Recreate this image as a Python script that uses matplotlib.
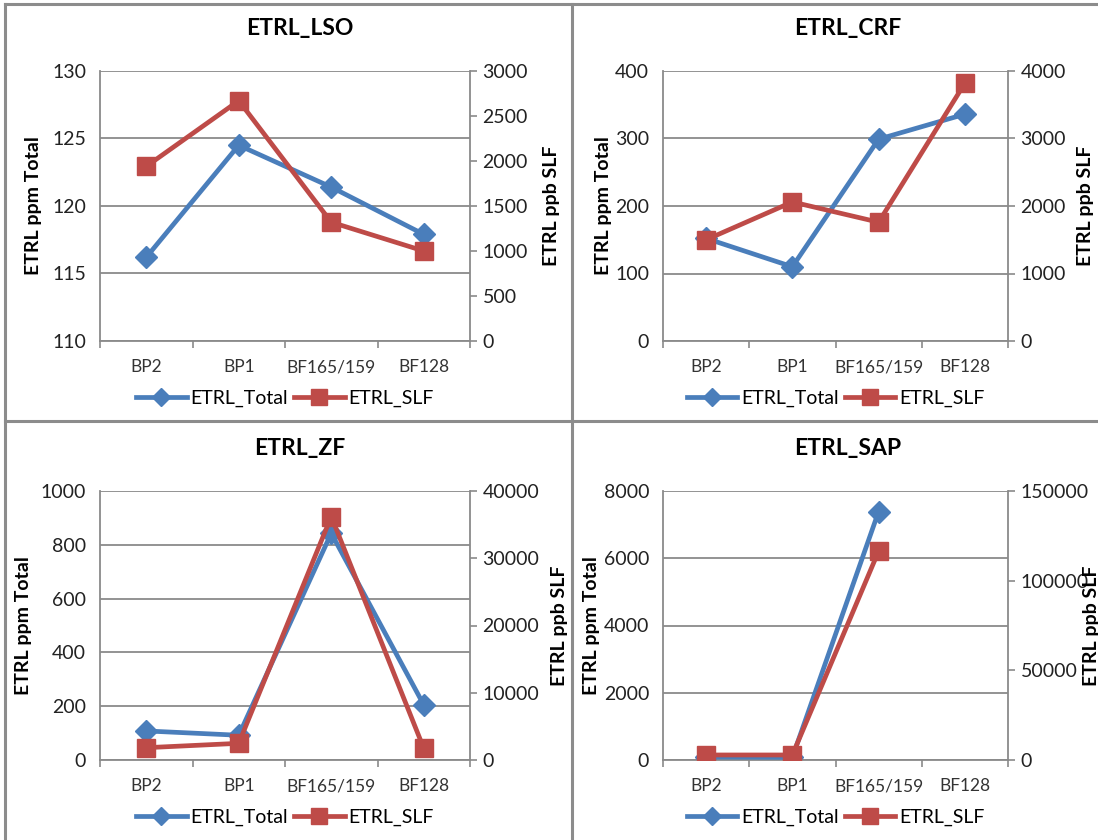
import numpy as np
import matplotlib
matplotlib.use("Agg")
import matplotlib.pyplot as plt
from matplotlib.lines import Line2D
from matplotlib.ticker import FixedLocator

plt.rcParams["font.family"] = ["Lato", "DejaVu Sans"]

categories = ["BP2", "BP1", "BF165/159", "BF128"]

# ppm totals (left axis) and ppb SLF (right axis) per sample site
lso_total = [116.2, 124.5, 121.4, 117.9]
lso_slf = [1940, 2670, 1320, 1000]
crf_total = [152, 110, 299, 336]
crf_slf = [1500, 2060, 1760, 3820]
zf_total = [108, 92, 843, 205]
zf_slf = [1830, 2480, 36200, 1740]
sap_total = [90, 80, 7390, np.nan]
sap_slf = [2800, 2800, 116500, np.nan]

lso_left_ticks = [110, 115, 120, 125, 130]
lso_right_ticks = [0, 500, 1000, 1500, 2000, 2500, 3000]
crf_left_ticks = [0, 100, 200, 300, 400]
crf_right_ticks = [0, 1000, 2000, 3000, 4000]
zf_left_ticks = [0, 200, 400, 600, 800, 1000]
zf_right_ticks = [0, 10000, 20000, 30000, 40000]
sap_left_ticks = [0, 2000, 4000, 6000, 8000]
sap_right_ticks = [0, 50000, 100000, 150000]

BLUE = "#4a7ebb"
RED = "#be4b48"
GRID = "#8a8a8a"

W, H = 1098, 840
fig = plt.figure(figsize=(W / 100, H / 100), dpi=100)


def px_axes(x0, y0, x1, y1):
    return fig.add_axes([x0 / W, 1 - y1 / H, (x1 - x0) / W, (y1 - y0) / H])


def draw_panel(box, title, total, slf, lticks, rticks, lab_l, lab_r, title_x):
    x0, y0, x1, y1 = box
    ax = px_axes(x0, y0, x1, y1)
    ax2 = ax.twinx()
    x = np.arange(len(categories))

    ax.plot(x, total, "-D", color=BLUE, lw=3.4, ms=11, mec=BLUE, zorder=3)
    ax2.plot(x, slf, "-s", color=RED, lw=3.4, ms=13, mec=RED, zorder=3)

    ax.set_xlim(-0.5, len(categories) - 0.5)
    ax.set_ylim(lticks[0], lticks[-1])
    ax2.set_ylim(rticks[0], rticks[-1])
    ax.set_yticks(lticks)
    ax2.set_yticks(rticks)
    ax.set_xticks(x)
    ax.set_xticklabels(categories, fontsize=12.5, color="#333333")
    ax.xaxis.set_minor_locator(FixedLocator(np.arange(-0.5, len(categories), 1.0)))
    ax.tick_params(axis="x", which="major", length=0, pad=13)
    ax.tick_params(axis="x", which="minor", length=5, color=GRID, width=1.2)
    ax.tick_params(axis="y", length=0, pad=10, labelsize=14, colors="#222222")
    ax2.tick_params(axis="y", length=5, pad=4, labelsize=14, colors="#222222")
    ax2.tick_params(axis="y", color=GRID, width=1.2)

    ax.grid(axis="y", color=GRID, lw=1.3)
    ax.set_axisbelow(True)
    for a in (ax, ax2):
        a.spines["top"].set_visible(False)
        for s in ("left", "right", "bottom"):
            a.spines[s].set_color(GRID)
            a.spines[s].set_linewidth(1.3)
    ax2.spines["left"].set_visible(False)
    ax2.spines["bottom"].set_visible(False)
    ax.spines["right"].set_visible(False)

    ax.set_ylabel("ETRL ppm Total", fontsize=14, fontweight="bold")
    ax2.set_ylabel("ETRL ppb SLF", fontsize=14, fontweight="bold")
    w, h = x1 - x0, y1 - y0
    ax.yaxis.set_label_coords((lab_l - x0) / w, 0.5)
    ax2.yaxis.set_label_coords((lab_r - x0) / w, 0.5)
    ax.yaxis.label.set_va("center")
    ax2.yaxis.label.set_va("center")

    fig.text(title_x / W, 1 - (y0 - 43) / H, title, fontsize=16.5,
             fontweight="bold", ha="center", va="center")

    handles = [
        Line2D([], [], color=BLUE, lw=3.4, marker="D", ms=9),
        Line2D([], [], color=RED, lw=3.4, marker="s", ms=11),
    ]
    ax.legend(handles, ["ETRL_Total", "ETRL_SLF"], loc="center",
              bbox_to_anchor=(0.5, -(57 / h)), ncol=2, frameon=False,
              fontsize=14, handlelength=2.6, handletextpad=0.2,
              columnspacing=0.3)


draw_panel((100, 71, 470, 341), "ETRL_LSO", lso_total, lso_slf,
           lso_left_ticks, lso_right_ticks, 34, 551, 300)
draw_panel((663, 71, 1008, 341), "ETRL_CRF", crf_total, crf_slf,
           crf_left_ticks, crf_right_ticks, 603, 1086, 848)
draw_panel((100, 491, 470, 760), "ETRL_ZF", zf_total, zf_slf,
           zf_left_ticks, zf_right_ticks, 24, 560, 300)
draw_panel((663, 491, 1008, 760), "ETRL_SAP", sap_total, sap_slf,
           sap_left_ticks, sap_right_ticks, 592, 1091, 848)

# panel frames
frame = dict(color="#8c8c8c", lw=2.2, transform=None)
for xs, ys in [
    ((5, 1098), (4, 4)),
    ((5, 5), (4, 840)),
    ((572, 572), (4, 840)),
    ((5, 1098), (421, 421)),
]:
    fig.add_artist(Line2D([xs[0], xs[1]], [H - ys[0], H - ys[1]], **frame))

fig.savefig("out.png", dpi=100, facecolor="white")
